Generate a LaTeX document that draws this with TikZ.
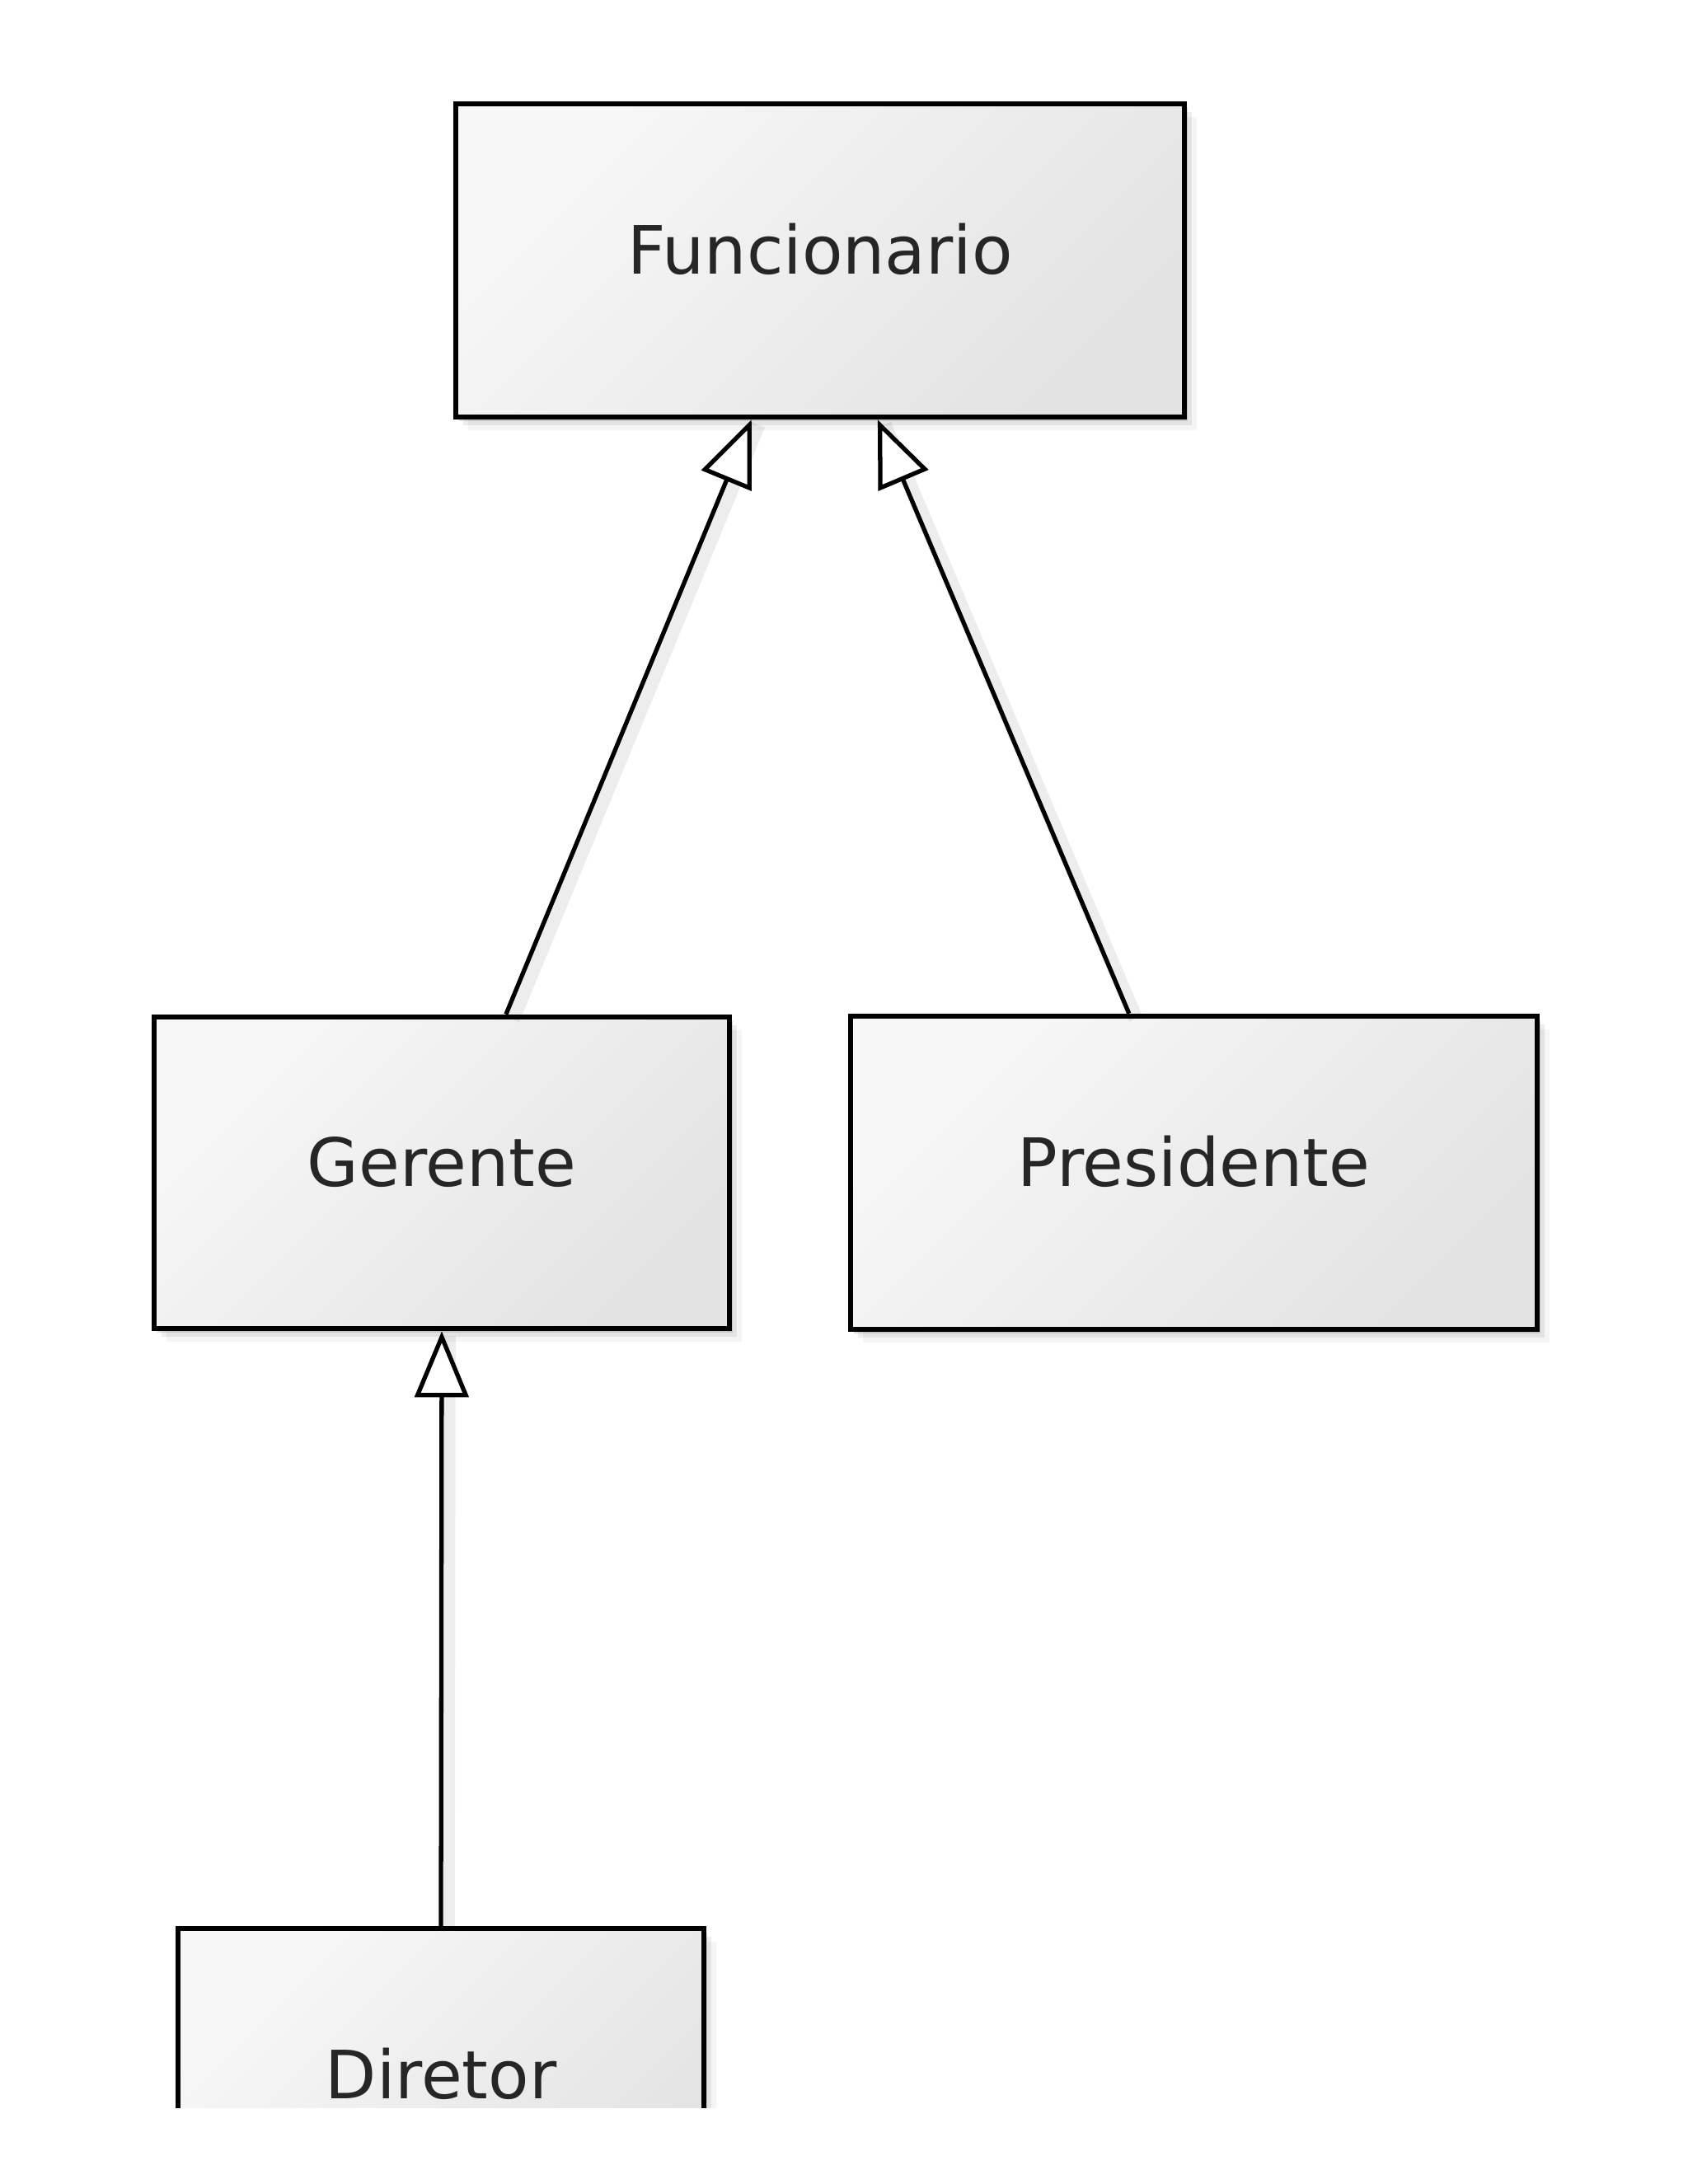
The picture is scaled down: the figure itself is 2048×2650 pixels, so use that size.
\documentclass[tikz,border=0pt]{standalone}
\usepackage{fontspec}
\setmainfont{DejaVu Sans}
\usetikzlibrary{arrows.meta,shadows}
\tikzset{
  umlclass/.style={draw=black, line width=1.8pt, rectangle, inner sep=0pt,
    top color=gray!6, bottom color=gray!22, shading angle=45,
    text depth=0.28cm,
    font=\fontsize{23}{28}\selectfont, text=black!85,
    drop shadow={shadow xshift=0.04cm, shadow yshift=-0.05cm, opacity=0.12, fill=black},
    drop shadow={shadow xshift=0.09cm, shadow yshift=-0.10cm, opacity=0.07, fill=black},
    drop shadow={shadow xshift=0.15cm, shadow yshift=-0.16cm, opacity=0.04, fill=black}},
  inherit/.style={line width=1.5pt, draw=black,
    -{Triangle[length=0.8cm, width=0.65cm, fill=white, line width=1.5pt]},
    preaction={draw=black, opacity=0.07, line width=5pt, -, transform canvas={xshift=0.08cm, yshift=-0.06cm}}}
}
\begin{document}
\begin{tikzpicture}[x=0.01cm, y=-0.01cm]
\useasboundingbox (0,0) rectangle (2048,2650);
\fill[white] (0,0) rectangle (2048,2650);

\node[umlclass, minimum width=8.84cm, minimum height=3.80cm] (F) at (995,316) {Funcionario};
\node[umlclass, minimum width=6.98cm, minimum height=3.78cm] (G) at (536,1423) {Gerente};
\node[umlclass, minimum width=8.33cm, minimum height=3.80cm] (P) at (1448.5,1423) {Presidente};
\begin{scope}
  \clip (0,0) rectangle (2048,2557);
  \node[umlclass, minimum width=6.38cm, minimum height=3.80cm] (D) at (535,2530) {Diretor};
\end{scope}

\draw[inherit] ([xshift=4.30cm]G.north west) -- ([xshift=3.62cm]F.south west);
\draw[inherit] ([xshift=3.41cm]P.north west) -- ([xshift=5.15cm]F.south west);
\draw[inherit] (D.north) -- (G.south);
\end{tikzpicture}
\end{document}
